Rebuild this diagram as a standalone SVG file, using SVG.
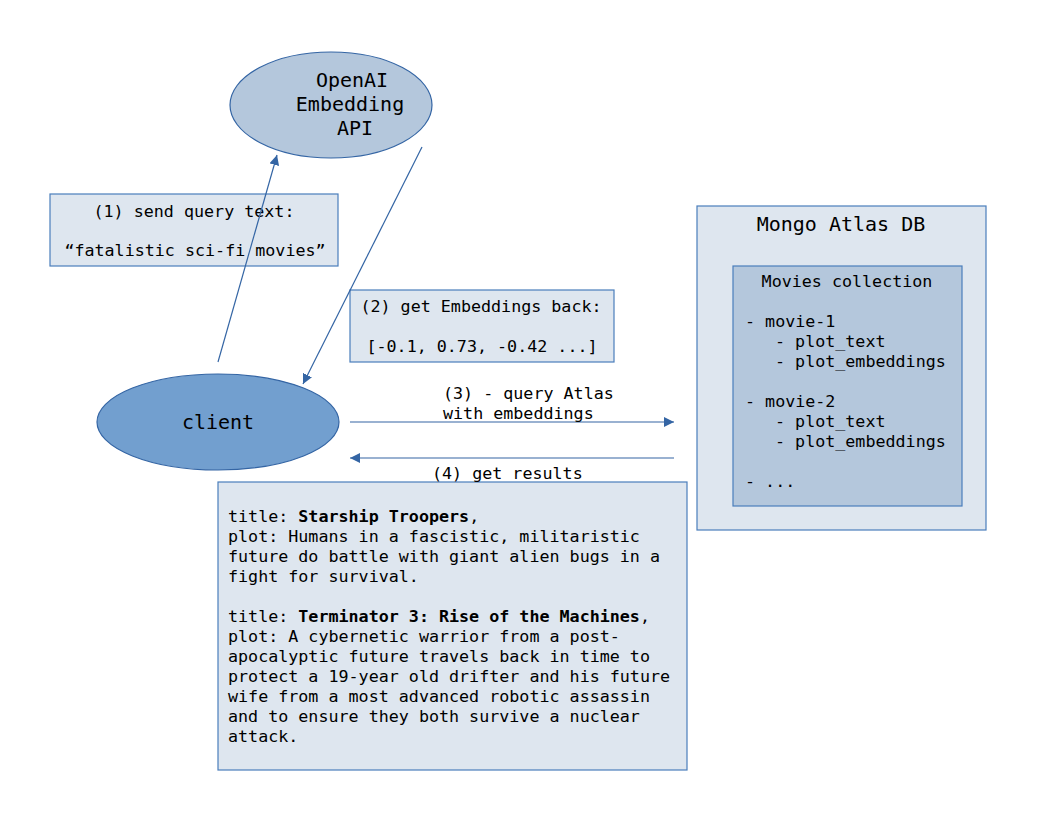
<svg xmlns="http://www.w3.org/2000/svg" width="1056" height="816" viewBox="0 0 1056 816">
<style>
text{font-family:"DejaVu Sans Mono","Liberation Mono",monospace;fill:#000}
.s{font-size:16.7px}
.l{font-size:20px}
.box{fill:#dee6ef;stroke:#4a7ebb;stroke-width:1.2}
.inner{fill:#b4c7dc;stroke:#4a7ebb;stroke-width:1.2}
.c{text-anchor:middle}
.ln{stroke:#3465a4;stroke-width:1.2;fill:none}
</style>
<defs>
<marker id="ah" viewBox="0 0 10 10" refX="10" refY="5" markerWidth="10" markerHeight="10" markerUnits="userSpaceOnUse" orient="auto">
<path d="M0,0 L10,5 L0,10 z" fill="#3465a4"/>
</marker>
</defs>
<rect width="1056" height="816" fill="#fff"/>
<g id="openai">
<ellipse cx="331" cy="105" rx="101" ry="53" fill="#b4c7dc" stroke="#3465a4" stroke-width="1.2"/>
<text class="l c" x="352" y="87">OpenAI</text>
<text class="l c" x="350" y="111">Embedding</text>
<text class="l c" x="355" y="135">API</text>
</g>
<g id="client">
<ellipse cx="218" cy="422" rx="121" ry="48" fill="#729fcf" stroke="#3465a4" stroke-width="1.2"/>
<text class="l c" x="218" y="429">client</text>
</g>
<g id="label1">
<rect class="box" x="50" y="194" width="288" height="72"/>
<text class="s c" x="194" y="217">(1) send query text:</text>
<text class="s c" x="195" y="256">“fatalistic sci-fi movies”</text>
</g>
<g id="label2">
<rect class="box" x="350" y="290" width="264" height="72"/>
<text class="s c" x="481" y="312">(2) get Embeddings back:</text>
<text class="s c" x="482" y="352">[-0.1, 0.73, -0.42 ...]</text>
</g>
<g id="mongo">
<rect class="box" x="697" y="206" width="289" height="324"/>
<text class="l c" x="841" y="231">Mongo Atlas DB</text>
<rect class="inner" x="733" y="266" width="229" height="240"/>
<text class="s c" x="847" y="287">Movies collection</text>
<text class="s" x="745" y="327">- movie-1</text>
<text class="s" x="775" y="347">- plot_text</text>
<text class="s" x="775" y="367">- plot_embeddings</text>
<text class="s" x="745" y="407">- movie-2</text>
<text class="s" x="775" y="427">- plot_text</text>
<text class="s" x="775" y="447">- plot_embeddings</text>
<text class="s" x="745" y="487">- ...</text>
</g>
<g id="results">
<rect class="box" x="218" y="482" width="469" height="288"/>
<text class="s" x="228" y="522">title: <tspan font-weight="bold">Starship Troopers</tspan>,</text>
<text class="s" x="228" y="542">plot: Humans in a fascistic, militaristic</text>
<text class="s" x="228" y="562">future do battle with giant alien bugs in a</text>
<text class="s" x="228" y="582">fight for survival.</text>
<text class="s" x="228" y="622">title: <tspan font-weight="bold">Terminator 3: Rise of the Machines</tspan>,</text>
<text class="s" x="228" y="642">plot: A cybernetic warrior from a post-</text>
<text class="s" x="228" y="662">apocalyptic future travels back in time to</text>
<text class="s" x="228" y="682">protect a 19-year old drifter and his future</text>
<text class="s" x="228" y="702">wife from a most advanced robotic assassin</text>
<text class="s" x="228" y="722">and to ensure they both survive a nuclear</text>
<text class="s" x="228" y="742">attack.</text>
</g>
<g id="connectors">
<line class="ln" x1="218" y1="362" x2="277" y2="155" marker-end="url(#ah)"/>
<line class="ln" x1="422" y1="147" x2="303" y2="384" marker-end="url(#ah)"/>
<line class="ln" x1="350" y1="422" x2="674" y2="422" marker-end="url(#ah)"/>
<line class="ln" x1="674" y1="458" x2="350" y2="458" marker-end="url(#ah)"/>
<text class="s" x="443" y="399">(3) - query Atlas</text>
<text class="s" x="443" y="419">with embeddings</text>
<text class="s" x="432" y="479">(4) get results</text>
</g>
</svg>
